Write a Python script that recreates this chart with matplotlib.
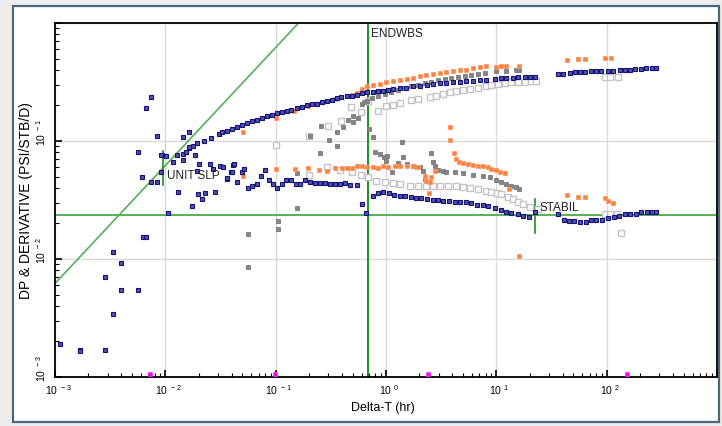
import matplotlib
matplotlib.use("Agg")
import matplotlib.pyplot as plt
import matplotlib.ticker as mticker
from matplotlib.patches import Rectangle
from matplotlib.transforms import ScaledTranslation
import numpy as np

plt.rcParams['font.family'] = ['Liberation Sans', 'DejaVu Sans']
plt.rcParams['mathtext.fontset'] = 'custom'
plt.rcParams['mathtext.rm'] = 'Liberation Sans'

# navy: pressure change (upper) and derivative (lower + early scatter)
navy_p_x = [0.00926, 0.0128, 0.0144, 0.0154, 0.0165, 0.0179, 0.0192, 0.0224, 0.0257, 0.0308, 0.0324,
            0.0359, 0.0399, 0.0442, 0.0491, 0.0545, 0.0605, 0.0671, 0.0745, 0.0827, 0.0918, 0.102,
            0.113, 0.126, 0.139, 0.155, 0.172, 0.191, 0.212, 0.235, 0.261, 0.289, 0.321, 0.356,
            0.395, 0.439, 0.487, 0.541, 0.600, 0.666, 0.764, 0.848, 0.941, 1.045, 1.16, 1.33, 1.53,
            1.76, 2.02, 2.33, 2.67, 3.07, 3.53, 4.05, 4.66, 5.36, 6.15, 7.07, 8.13, 9.67, 11.1,
            12.3, 14.2, 15.7, 18.1, 20.1, 22.3, 36.2, 40.2, 46.2, 51.3, 56.9, 63.2, 72.7, 80.7,
            89.5, 102.8, 114, 131, 146, 162, 179, 206, 229, 259, 282]
navy_p_y = [0.0761, 0.0761, 0.0776, 0.0811, 0.0867, 0.0912, 0.0962, 0.1006, 0.1054, 0.1147, 0.1185,
            0.1223, 0.1264, 0.1306, 0.1366, 0.1421, 0.1469, 0.1515, 0.1557, 0.1620, 0.1670, 0.1727,
            0.1750, 0.1795, 0.1842, 0.1893, 0.1930, 0.2018, 0.2058, 0.2070, 0.2128, 0.2183, 0.2239,
            0.2301, 0.2346, 0.2392, 0.2420, 0.2468, 0.2536, 0.2587, 0.2618, 0.2654, 0.2672, 0.2722,
            0.2760, 0.2797, 0.2830, 0.2908, 0.2942, 0.2983, 0.3024, 0.3083, 0.3102, 0.3144, 0.3181,
            0.3206, 0.3243, 0.3288, 0.3308, 0.3372, 0.3394, 0.3415, 0.3435, 0.3456, 0.3496, 0.3520,
            0.3520, 0.3718, 0.3718, 0.3792, 0.3822, 0.3822, 0.3822, 0.3897, 0.392, 0.392, 0.392,
            0.392, 0.3974, 0.3997, 0.402, 0.4076, 0.41, 0.4132, 0.4132, 0.4132]

navy_d_x = [0.00111, 0.00168, 0.00168, 0.00284, 0.00337, 0.00284, 0.00396, 0.00561, 0.00396, 0.00337,
            0.00623, 0.00663, 0.01062, 0.0173, 0.02133, 0.00736, 0.00663, 0.00834, 0.00561, 0.01443,
            0.01646, 0.00912, 0.01006, 0.00618, 0.00736, 0.00834, 0.00912, 0.01309, 0.01986, 0.02285,
            0.02813, 0.0203, 0.02535, 0.03123, 0.02716, 0.0412, 0.01921, 0.0118, 0.01854, 0.01636,
            0.03591, 0.0448, 0.03904, 0.01452,
            0.0332, 0.0359, 0.0399, 0.0418, 0.0491, 0.0515, 0.0563, 0.0605, 0.0671, 0.0730, 0.0799,
            0.0873, 0.0949, 0.1032, 0.1131, 0.1237, 0.1365, 0.1524, 0.1656, 0.1839, 0.2041, 0.2266,
            0.2515, 0.2792, 0.3098, 0.3439, 0.3817, 0.4237, 0.470, 0.5406,
            0.600, 0.656, 0.764, 0.848, 0.941, 1.067, 1.177, 1.334, 1.480, 1.702, 1.862, 2.097,
            2.357, 2.672, 2.965, 3.290, 3.730, 4.200, 4.662, 5.283, 5.95, 6.686, 7.58, 8.41, 9.67,
            11.1, 12.3, 13.7, 15.7, 17.5, 19.8, 22.3, 36.2, 41.0, 45.3, 50.6, 56.9, 64.6, 72.7,
            80.7, 90.6, 102.8, 115.7, 128.4, 146, 164, 183, 206, 232, 259, 282]
navy_d_y = [0.00189, 0.00170, 0.00166, 0.00170, 0.00342, 0.00708, 0.00546, 0.00546, 0.00920, 0.0114,
            0.0155, 0.0155, 0.0245, 0.0280, 0.0323, 0.2346, 0.1893, 0.1109, 0.0802, 0.1075,
            0.1185, 0.0765, 0.0750, 0.0492, 0.0447, 0.0447, 0.0549, 0.0372, 0.0356, 0.0360,
            0.0372, 0.0638, 0.0638, 0.0610, 0.0579, 0.0630, 0.0560, 0.0668, 0.0765, 0.0884,
            0.0476, 0.0447, 0.0543, 0.0690,
            0.0598, 0.0483, 0.0549, 0.0638, 0.0543, 0.0579, 0.0400, 0.0413, 0.0432, 0.0502, 0.0568,
            0.0470, 0.0432, 0.0400, 0.0432, 0.0470, 0.0470, 0.0432, 0.0432, 0.0470, 0.0452, 0.0441,
            0.0441, 0.0441, 0.0432, 0.0432, 0.0432, 0.0441, 0.0424, 0.0424,
            0.0292, 0.0244, 0.0340, 0.0362, 0.0372, 0.0362, 0.0351, 0.0344, 0.0340, 0.0333, 0.0330,
            0.0327, 0.0323, 0.0318, 0.0314, 0.0310, 0.0308, 0.0306, 0.0302, 0.0302, 0.0296, 0.0287,
            0.0287, 0.0280, 0.0269, 0.0260, 0.0252, 0.0245, 0.0241, 0.0230, 0.0226, 0.0252, 0.0241,
            0.0214, 0.0209, 0.0209, 0.0205, 0.0205, 0.0215, 0.0215, 0.0215, 0.0221, 0.0226, 0.0233,
            0.0241, 0.0241, 0.0241, 0.0252, 0.0252, 0.0252, 0.0252]

# orange
orange_p_x = [0.0501, 0.1004, 0.1462, 0.1970, 0.3437, 0.4388, 0.4871, 0.5406, 0.600, 0.666, 0.764,
              0.879, 1.010, 1.160, 1.334, 1.534, 1.761, 2.024, 2.328, 2.672, 3.072, 3.532, 4.054,
              4.662, 5.36, 6.152, 7.073, 8.134, 10.0, 11.1, 12.3, 16.1, 44.1, 55.0, 63.2, 95.9, 110]
orange_p_y = [0.1199, 0.1575, 0.1785, 0.1991, 0.2270, 0.2420, 0.2454, 0.2552, 0.2760, 0.2908, 0.2983,
              0.3060, 0.3144, 0.3226, 0.3308, 0.3373, 0.3439, 0.3534, 0.3604, 0.3675, 0.3748, 0.3822,
              0.3897, 0.3974, 0.4020, 0.4132, 0.4213, 0.4296, 0.4262, 0.4346, 0.4346, 0.4346, 0.4831,
              0.4955, 0.4955, 0.5053, 0.5053]
orange_d_x = [0.0501, 0.1004, 0.1493, 0.1970, 0.2477, 0.2929, 0.3437, 0.3954, 0.4388, 0.4871, 0.5406,
              0.600, 0.666, 0.764, 0.848, 0.941, 1.045, 1.201, 1.334, 1.534, 1.761, 1.954, 2.246,
              2.328, 2.493, 2.583, 2.767, 2.457, 3.839, 3.839, 4.139, 4.352, 4.594, 4.994, 5.542,
              6.152, 6.83, 7.58, 8.41, 9.03, 10.0, 10.9, 11.9, 13.0, 44.1, 55.0, 63.2, 95.9, 102.8,
              114, 16.0]
orange_d_y = [0.0508, 0.0579, 0.0579, 0.0591, 0.0571, 0.0560, 0.0591, 0.0587, 0.0587, 0.0587, 0.0610,
              0.0618, 0.0598, 0.0598, 0.0587, 0.0618, 0.0598, 0.0610, 0.0618, 0.0610, 0.0610, 0.0598,
              0.0508, 0.0461, 0.0452, 0.0492, 0.0560, 0.0362, 0.1322, 0.1026, 0.0791, 0.0704, 0.0668,
              0.0651, 0.0638, 0.0626, 0.0618, 0.0610, 0.0598, 0.0579, 0.0571, 0.0549, 0.0532, 0.0392,
              0.0349, 0.0333, 0.0333, 0.0327, 0.0312, 0.0298, 0.0107]

# dark grey
dgrey_p_x = [0.0563, 0.0563, 0.1053, 0.1053, 0.1566, 0.1566, 0.2041, 0.2551, 0.2515, 0.3053, 0.3562,
             0.3562, 0.4036, 0.4536, 0.4973, 0.4973, 0.5518, 0.600, 0.6295, 0.666, 0.7393, 0.848,
             0.975, 1.121, 1.287, 1.480, 1.702, 1.954, 2.246, 2.583, 2.965, 3.409, 3.921, 4.499,
             5.174, 5.95, 6.83, 7.85, 10.0, 12.3, 15.2, 16.1]
dgrey_p_y = [0.0163, 0.0085, 0.0209, 0.0180, 0.0536, 0.0270, 0.1096, 0.1348, 0.0791, 0.1020, 0.0912,
             0.1185, 0.1306, 0.1507, 0.1440, 0.1638, 0.1557, 0.2058, 0.2153, 0.2196, 0.2301, 0.2392,
             0.2502, 0.2618, 0.2722, 0.2813, 0.2908, 0.3001, 0.3083, 0.3181, 0.3268, 0.3353, 0.3419,
             0.3507, 0.3575, 0.3647, 0.3718, 0.3792, 0.3897, 0.3944, 0.4020, 0.4020]
dgrey_d_x = [0.7029, 0.7545, 0.7919, 0.879, 0.955, 1.023, 0.996, 1.145, 1.287, 1.382, 1.428, 1.534,
             1.761, 1.89, 2.024, 2.168, 2.246, 2.583, 2.672, 2.767, 2.965, 3.29, 3.532, 4.2, 4.994,
             6.152, 7.58, 8.71, 10.0, 11.1, 12.3, 13.7, 15.2, 16.1]
dgrey_d_y = [0.1264, 0.1075, 0.0811, 0.0776, 0.0728, 0.0750, 0.0681, 0.0549, 0.0651, 0.0987, 0.0728,
             0.0638, 0.0618, 0.0598, 0.0598, 0.0560, 0.0476, 0.0791, 0.0660, 0.0618, 0.0571, 0.0560,
             0.0549, 0.0543, 0.0532, 0.0515, 0.0502, 0.0492, 0.0470, 0.0452, 0.0432, 0.0418, 0.0405,
             0.0392]

# light grey (hollow)
lgrey_p_x = [0.0998, 0.2000, 0.2951, 0.3870, 0.477, 0.5875, 0.6883, 0.848, 1.010, 1.160, 1.334, 1.702,
             1.954, 2.493, 2.867, 3.29, 3.784, 4.352, 4.994, 5.742, 6.83, 8.134, 9.03, 10.4, 11.9,
             13.7, 15.7, 18.1, 20.8, 23.1, 95.9, 106.5, 126.6]
lgrey_p_y = [0.0930, 0.1096, 0.1348, 0.1486, 0.1930, 0.1750, 0.2196, 0.1806, 0.1968, 0.2031, 0.2087,
             0.2226, 0.2270, 0.2346, 0.2420, 0.2502, 0.2587, 0.2637, 0.2704, 0.2760, 0.2813, 0.2942,
             0.2983, 0.3041, 0.3083, 0.3144, 0.3144, 0.3181, 0.3206, 0.3243, 0.3467, 0.3507, 0.3507]
lgrey_d_x = [0.2000, 0.2892, 0.3817, 0.4871, 0.5875, 0.6883, 0.820, 0.975, 1.160, 1.334, 1.644, 1.954,
             2.328, 2.672, 3.072, 3.65, 4.352, 4.994, 5.742, 6.83, 8.134, 9.03, 10.1, 11.1, 12.8,
             14.2, 15.7, 17.5, 20.1, 23.9, 95.9, 106.5, 124, 136]
lgrey_d_y = [0.0518, 0.0598, 0.0571, 0.0543, 0.0515, 0.0492, 0.0461, 0.0452, 0.0438, 0.0432, 0.0418,
             0.0418, 0.0418, 0.0413, 0.0413, 0.0413, 0.0413, 0.0405, 0.0397, 0.0392, 0.0379, 0.0372,
             0.0362, 0.0356, 0.0333, 0.0323, 0.0306, 0.0292, 0.0274, 0.0265, 0.0241, 0.0241, 0.0241,
             0.0165]

# magenta flags along the bottom
pink_x = [0.0073, 0.0985, 2.38, 152]
pink_y = [0.00105, 0.00105, 0.00105, 0.00105]

# analysis lines
endwbs_t = 0.68
stabil_t = 22.3
unit_slp_t = 0.0095
stabil_level = 0.0236
unit_coef = 6.2

fig = plt.figure(figsize=(7.22, 4.27), dpi=100, facecolor='#ededed')
# window-like panel behind the axes
fig.patches.append(Rectangle((13/722, 4/427), 706/722, 416/427, transform=fig.transFigure,
                             facecolor='white', edgecolor='#4f6779', lw=1.6, zorder=-5))
ax = fig.add_axes([55/722, 49/427, 662/722, 354/427])
ax.set_zorder(2)
ax.set_xscale('log')
ax.set_yscale('log')
ax.set_xlim(1e-3, 1e3)
ax.set_ylim(1e-3, 1)

ax.grid(True, which='major', color='#d9d9d9', lw=1.0)
ax.set_axisbelow(True)

# straight lines
ux = np.array([1e-3, 1.0])
ax.plot(ux, unit_coef * ux, color='#55b055', lw=1.2, zorder=2)
ax.axhline(stabil_level, color='#55b055', lw=1.4, zorder=2)
ax.axvline(endwbs_t, color='#1f8f1f', lw=1.4, zorder=2)
ax.plot([unit_slp_t, unit_slp_t], [0.0424, 0.0823], color='#1f8f1f', lw=1.2, zorder=2)
ax.plot([stabil_t, stabil_t], [0.0166, 0.0323], color='#1f8f1f', lw=1.2, zorder=2)

sq = dict(marker='s', ls='none', zorder=3)
ax.plot(lgrey_p_x, lgrey_p_y, ms=4.2, mfc='white', mec='#c4c4c4', mew=1.0, **sq)
ax.plot(lgrey_d_x, lgrey_d_y, ms=4.2, mfc='white', mec='#c4c4c4', mew=1.0, **sq)
ax.plot(dgrey_p_x, dgrey_p_y, ms=3.0, mfc='#858585', mec='#7a7a7a', mew=0.6, **sq)
ax.plot(dgrey_d_x, dgrey_d_y, ms=3.0, mfc='#858585', mec='#7a7a7a', mew=0.6, **sq)
ax.plot(orange_p_x, orange_p_y, ms=3.0, mfc='#ff7f3c', mec='#ff9a66', mew=0.6, **sq)
ax.plot(orange_d_x, orange_d_y, ms=3.0, mfc='#ff7f3c', mec='#ff9a66', mew=0.6, **sq)
ax.plot(navy_p_x, navy_p_y, ms=2.7, mfc='#5252a6', mec='#12127a', mew=0.8, **sq)
ax.plot(navy_d_x, navy_d_y, ms=2.7, mfc='#5252a6', mec='#12127a', mew=0.8, **sq)
ax.plot(pink_x, pink_y, ms=3.0, mfc='#ff00ff', mec='#ff33ff', mew=0.5, **sq)

ax.text(endwbs_t * 1.07, 0.93, 'ENDWBS', fontsize=8.5, va='top', ha='left', color='#222222')
ax.text(unit_slp_t * 1.1, 0.052, 'UNIT SLP', fontsize=8.5, va='center', ha='left', color='#222222')
ax.text(stabil_t * 1.1, 0.0275, 'STABIL', fontsize=8.5, va='center', ha='left', color='#222222')


def fmt_x(v, pos):
    e = int(round(np.log10(v)))
    if e > 2 or e < -3:
        return ''
    return '10$^{\\ %d}$' % e


def fmt_y(v, pos):
    e = int(round(np.log10(v)))
    if e > -1 or e < -3:
        return ''
    return '10$^{\\ %d}$' % e


ax.xaxis.set_major_locator(mticker.LogLocator(base=10, numticks=20))
ax.yaxis.set_major_locator(mticker.LogLocator(base=10, numticks=20))
ax.xaxis.set_minor_locator(mticker.LogLocator(base=10, subs=np.arange(2, 10), numticks=20))
ax.yaxis.set_minor_locator(mticker.LogLocator(base=10, subs=np.arange(2, 10), numticks=20))
ax.xaxis.set_major_formatter(mticker.FuncFormatter(fmt_x))
ax.yaxis.set_major_formatter(mticker.FuncFormatter(fmt_y))
ax.xaxis.set_minor_formatter(mticker.NullFormatter())
ax.yaxis.set_minor_formatter(mticker.NullFormatter())
ax.tick_params(which='both', direction='in', top=False, right=False, labelsize=7.5, color='black')
ax.tick_params(which='major', length=5, width=1.2)
ax.tick_params(which='minor', length=3, width=0.8)
ax.tick_params(axis='y', which='major', pad=5)

# y tick labels: rotated, with the "10" centred on the tick and exponent above
shift_y = ScaledTranslation(0, -3 / 72, fig.dpi_scale_trans)
for lab in ax.get_yticklabels():
    lab.set_rotation(90)
    lab.set_rotation_mode('anchor')
    lab.set_ha('left')
    lab.set_va('bottom')
    lab.set_transform(lab.get_transform() + shift_y)

# x tick labels sit slightly right of the tick, as in the original
shift_x = ScaledTranslation(0.03, 0, fig.dpi_scale_trans)
for lab in ax.get_xticklabels():
    lab.set_transform(lab.get_transform() + shift_x)

for s in ax.spines.values():
    s.set_linewidth(1.3)
    s.set_color('black')

ax.set_xlabel('Delta-T (hr)', fontsize=9)
ax.set_ylabel('DP & DERIVATIVE (PSI/STB/D)', fontsize=10)
ax.xaxis.set_label_coords(0.495, -0.068)
ax.yaxis.set_label_coords(-0.033, 0.5)

fig.savefig('out.png', dpi=100, facecolor=fig.get_facecolor())
